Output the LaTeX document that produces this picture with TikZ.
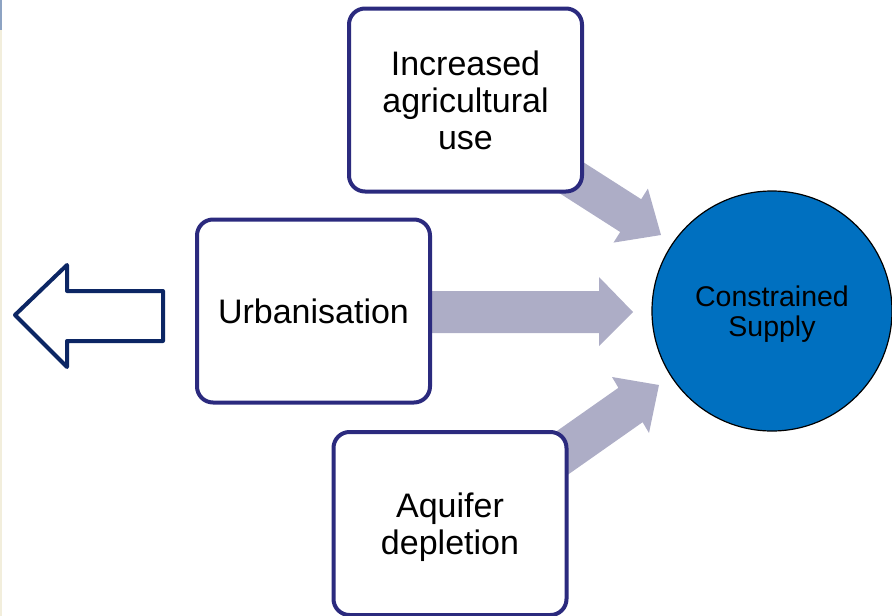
\documentclass[tikz,border=0pt]{standalone}
\usepackage{fontspec}
\setmainfont{Liberation Sans}
\usetikzlibrary{backgrounds}
\definecolor{boxline}{HTML}{2B2A7E}
\definecolor{arrowfill}{HTML}{ADADC6}
\definecolor{navyline}{HTML}{0C2664}
\definecolor{circfill}{HTML}{0070C0}
\definecolor{edgeblue}{HTML}{8DA3C3}
\definecolor{edgebeige}{HTML}{F2EEDC}
\begin{document}
\begin{tikzpicture}[x=1pt,y=-1pt,
  causebox/.style={draw=boxline, line width=4pt, fill=white, rounded corners=16pt,
    minimum width=233pt, minimum height=183pt, align=center, inner sep=0pt,
    font=\fontsize{34}{37}\selectfont},
  blockarrow/.style={fill=arrowfill, draw=none},
  goal/.style={circle, draw=black, line width=1.2pt, fill=circfill, minimum size=240pt,
    inner sep=0pt, align=center, font=\fontsize{28.5}{30}\selectfont},
  outarrow/.style={draw=navyline, line width=4pt, line join=round, fill=white}]
\useasboundingbox (0,0) rectangle (892,616);
\clip (0,0) rectangle (892,616);
\fill[edgeblue] (0,0) rectangle (1.5,30);
\fill[edgebeige] (0,30) rectangle (1.5,616);

\node[causebox] (agri) at (465.5,100) {Increased\\agricultural\\use};
\node[causebox] (urban) at (313.5,311) {Urbanisation};
\node[causebox] (aquifer) at (450,523.5) {Aquifer\\\smash{depletion}};
\node[goal] (supply) at (772,311) {Constrained\\\smash{Supply}};

\begin{scope}[on background layer]
  % top arrow
  \fill[blockarrow] (535.9,178.1) -- (620.2,232) -- (613.5,242.6) -- (661,235)
     -- (647.9,188.6) -- (641.2,199.2) -- (556.9,145.3) -- cycle;
  % middle arrow
  \fill[blockarrow] (420,291) -- (599,291) -- (599,277) -- (633,312)
     -- (599,346) -- (599,333) -- (420,333) -- cycle;
  % bottom arrow
  \fill[blockarrow] (552.5,485.5) -- (642.6,422.2) -- (649,433) -- (659,385)
     -- (612,377) -- (618.4,387.8) -- (528.3,451.1) -- cycle;
\end{scope}

\draw[outarrow] (15,315) -- (67,265) -- (67,291) -- (163,291) -- (163,341)
   -- (67,341) -- (67,367) -- cycle;
\end{tikzpicture}
\end{document}
